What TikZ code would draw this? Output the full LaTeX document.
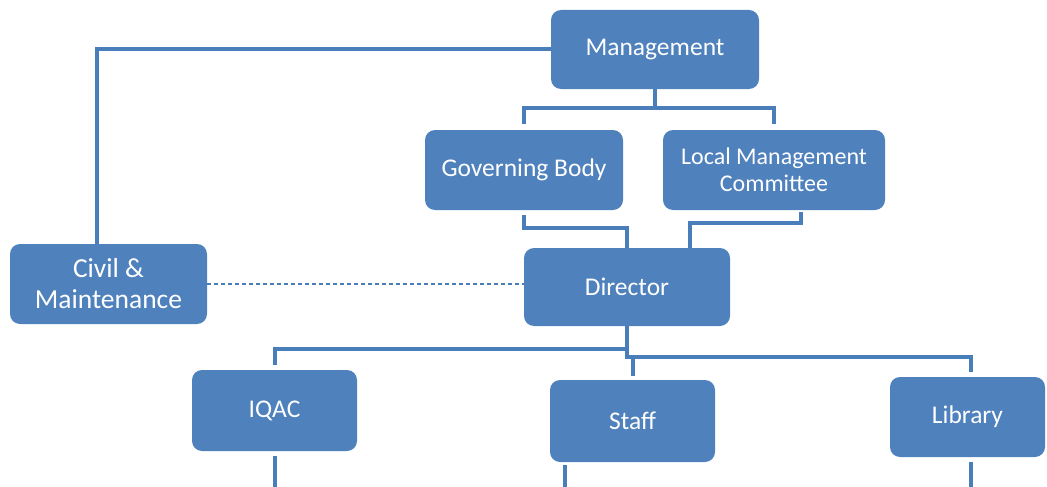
\documentclass[tikz,border=0pt]{standalone}
\usepackage{fontspec}
\setmainfont{Carlito}
\begin{document}
\begin{tikzpicture}[x=1pt,y=-1pt,
  unit/.style={fill=boxblue, rounded corners=10pt, inner sep=0pt, text=white,
    align=center, font=\fontsize{25.5}{30}\selectfont},
  conn/.style={draw=lineblue, line width=4pt},
  dashlink/.style={draw=lineblue, line width=1.2pt, dash pattern=on 4pt off 3pt}]
\definecolor{boxblue}{HTML}{4F81BD}
\definecolor{lineblue}{HTML}{4A7EBB}
\useasboundingbox (0,0) rectangle (1047,487);

% units
\node[unit, minimum width=208pt, minimum height=79pt] (mgmt) at (655,49.5) {Management};
\node[unit, minimum width=198pt, minimum height=80pt] (gb) at (524,170) {Governing Body};
\node[unit, minimum width=222pt, minimum height=80pt,
      font=\fontsize{24}{27}\selectfont] (lmc) at (774,170) {Local Management\\Committee};
\node[unit, minimum width=206pt, minimum height=78pt] (dir) at (627,287) {Director};
\node[unit, minimum width=197pt, minimum height=80pt,
      font=\fontsize{27.5}{31}\selectfont] (civil) at (108.5,284) {Civil \&\\Maintenance};
\node[unit, minimum width=165pt, minimum height=81pt] (iqac) at (274.5,410.5) {IQAC};
\node[unit, minimum width=165pt, minimum height=82pt] (staff) at (632.5,421) {Staff};
\node[unit, minimum width=155pt, minimum height=80pt] (lib) at (967.5,417) {Library};

% junction points
\coordinate (mbus) at (655,108);
\coordinate (gbd) at (627,228);
\coordinate (lmd) at (690,223);
\coordinate (d1) at (627,349);
\coordinate (d2) at (629,357);
\coordinate (bottom) at (0,487);

% management links
\draw[conn] (mgmt.west) -| ([xshift=-11.5pt]civil.north);
\draw[conn] (mgmt.south) -- (mbus);
\draw[conn] ([yshift=6pt]gb.north) |- (mbus) -| ([yshift=6pt]lmc.north);

% links into the director
\draw[conn] ([yshift=-5pt]gb.south) |- (gbd) -- (dir.north);
\draw[conn] ([xshift=27pt,yshift=-2pt]lmc.south) |- (lmd) -- (lmd |- dir.north);
\draw[dashlink] (civil.east) -- (civil.east -| dir.west);

% links below the director
\draw[conn] (dir.south) -- (d1) -| ([yshift=5pt]iqac.north);
\draw[conn] (d1) |- (d2) -| ([xshift=3.5pt,yshift=5pt]lib.north);
\draw[conn] (staff.north |- d2) -- ([yshift=4pt]staff.north);

% stubs leaving the lower units
\coordinate (ib) at (iqac.south |- bottom);
\coordinate (sb) at ([xshift=-68pt]staff.south |- bottom);
\coordinate (lb) at ([xshift=3.5pt]lib.south |- bottom);
\draw[conn] ([yshift=-5pt]iqac.south) -- (ib);
\draw[conn] ([xshift=-68pt,yshift=-3pt]staff.south) -- (sb);
\draw[conn] ([xshift=3.5pt,yshift=-5pt]lib.south) -- (lb);
\end{tikzpicture}
\end{document}
